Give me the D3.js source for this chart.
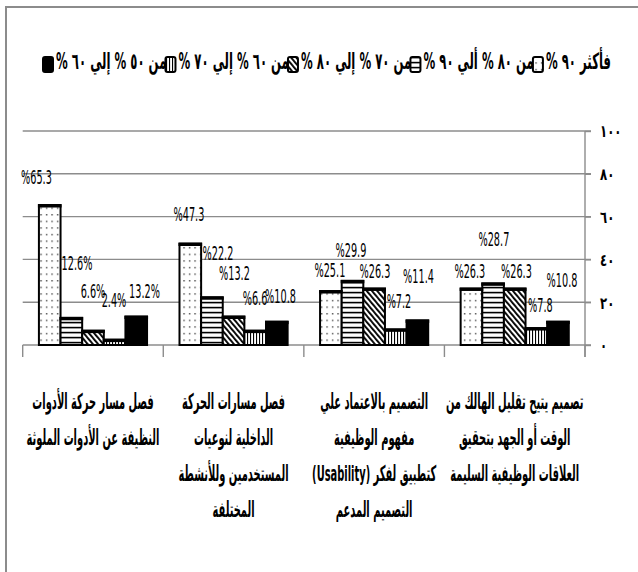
<!DOCTYPE html>
<html><head><meta charset="utf-8">
<script src="https://cdn.jsdelivr.net/npm/d3@7"></script>
<style>body{margin:0;background:#fff}svg{display:block}</style>
</head><body>
<svg id="c" width="638" height="572"></svg>
<script>
// ---------- data ----------
const categories = [
  ["فصل مسار حركة الأدوات", "النظيفة عن الأدوات الملوثة"],
  ["فصل مسارات الحركة", "الداخلية لنوعيات", "المستخدمين وللأنشطة", "المختلفة"],
  ["التصميم بالاعتماد علي", "مفهوم الوظيفية", "كتطبيق لفكر (Usability)", "التصميم المدعم"],
  ["تصميم يتيح تقليل الهالك من", "الوقت أو الجهد بتحقيق", "العلاقات الوظيفية السليمة"]
];
const seriesNames = ["فأكثر ٩٠ %", "من ٨٠ % ألي ٩٠ %", "من ٧٠ % إلي ٨٠ %", "من ٦٠ % إلي ٧٠ %", "من ٥٠ % إلي ٦٠ %"];
const s90plus  = [65.3, 47.3, 25.1, 26.3];
const s80to90  = [12.6, 22.2, 29.9, 28.7];
const s70to80  = [6.6, 13.2, 26.3, 26.3];
const s60to70  = [2.4, 6.6, 7.2, 7.8];
const s50to60  = [13.2, 10.8, 11.4, 10.8];
const seriesValues = [s90plus, s80to90, s70to80, s60to70, s50to60];
const yTickValues = [0, 20, 40, 60, 80, 100];
const yTickLabels = ["٠", "٢٠", "٤٠", "٦٠", "٨٠", "١٠٠"];

// ---------- styling / layout ----------
const patterns = ["dots", "hlines", "diag", "vlines", "solid"];
// manual data-label nudges (dx, dy of label centre relative to bar top centre)
const labelDx = [[-13.3,-1.4,-1,-1.6],[5.6,6,-1.6,0.8],[0,0.9,0.8,1.7],[-0.6,-0.2,3.2,4.1],[8.3,3.7,1.1,4]];
const labelDy = [[-27.8,-29.8,-20.8,-17.7],[-55,-44.5,-30.5,-44.6],[-40,-43.8,-17.7,-17.7],[-40,-33,-28,-23.3],[-25.3,-25.4,-44,-41.9]];

const svg = d3.select("#c");
const plot = {left: 22.7, right: 585, top: 131, bottom: 345};
const arabicFont = "'DejaVu Sans', sans-serif";
const numFont = "'DejaVu Sans Condensed', 'DejaVu Sans', sans-serif";
const GRID = "#8c8c8c";

// outer frame
svg.append("rect").attr("x", 6).attr("y", 7).attr("width", 700).attr("height", 700)
  .attr("fill", "none").attr("stroke", GRID).attr("stroke-width", 2);

// patterns
const defs = svg.append("defs");
{
  let p = defs.append("pattern").attr("id", "dots").attr("patternUnits", "userSpaceOnUse")
    .attr("width", 5.5).attr("height", 6.6);
  p.append("rect").attr("width", 5.5).attr("height", 6.6).attr("fill", "#fff");
  p.append("rect").attr("x", 2).attr("y", 3).attr("width", 1.2).attr("height", 1.2).attr("fill", "#000");

  p = defs.append("pattern").attr("id", "hlines").attr("patternUnits", "userSpaceOnUse")
    .attr("width", 6).attr("height", 5);
  p.append("rect").attr("width", 6).attr("height", 5).attr("fill", "#fff");
  p.append("rect").attr("y", 1.8).attr("width", 6).attr("height", 1.6).attr("fill", "#000");

  p = defs.append("pattern").attr("id", "diag").attr("patternUnits", "userSpaceOnUse")
    .attr("width", 4).attr("height", 10).attr("patternTransform", "rotate(-40)");
  p.append("rect").attr("width", 4).attr("height", 10).attr("fill", "#fff");
  p.append("rect").attr("x", 1).attr("width", 1.9).attr("height", 10).attr("fill", "#000");

  p = defs.append("pattern").attr("id", "vlines").attr("patternUnits", "userSpaceOnUse")
    .attr("width", 3).attr("height", 10);
  p.append("rect").attr("width", 3).attr("height", 10).attr("fill", "#fff");
  p.append("rect").attr("x", 1).attr("width", 1.1).attr("height", 10).attr("fill", "#000");
}
const fillOf = k => patterns[k] === "solid" ? "#000" : `url(#${patterns[k]})`;

// scales
const x0 = d3.scaleBand().domain(d3.range(categories.length)).range([plot.left, plot.right]).padding(0);
const x1 = d3.scaleBand().domain(d3.range(seriesValues.length)).range([0, x0.bandwidth()])
  .paddingInner(0).paddingOuter(0.75);
const y = d3.scaleLinear().domain([0, 100]).range([plot.bottom, plot.top]);

// gridlines
svg.append("g").selectAll("line").data(yTickValues).join("line")
  .attr("x1", plot.left).attr("x2", plot.right + 6)
  .attr("y1", d => y(d)).attr("y2", d => y(d))
  .attr("stroke", GRID).attr("stroke-width", 1.4);

// y axis on right
const yAxis = d3.axisRight(y).tickValues(yTickValues).tickSize(6).tickFormat((d, i) => yTickLabels[i]);
const gy = svg.append("g").attr("transform", `translate(${plot.right},0)`).call(yAxis);
gy.select(".domain").attr("stroke", GRID).attr("stroke-width", 1.4).attr("d", `M0,${plot.top}V${plot.bottom + 12}`);
gy.selectAll(".tick line").attr("stroke", GRID).attr("stroke-width", 1.4);
gy.selectAll(".tick text").attr("x", 0).attr("dy", null)
  .attr("font-family", arabicFont).attr("font-weight", "bold").attr("font-size", 13)
  .attr("fill", "#000").attr("text-anchor", "start").attr("dominant-baseline", "central")
  .attr("transform", "translate(15,0) scale(0.9,1.3)");

// category tick marks
svg.append("g").selectAll("line").data(d3.range(categories.length + 1)).join("line")
  .attr("x1", i => plot.left + i * x0.step()).attr("x2", i => plot.left + i * x0.step())
  .attr("y1", plot.bottom).attr("y2", plot.bottom + 12)
  .attr("stroke", GRID).attr("stroke-width", 1.4);

// bars
const rows = [];
seriesValues.forEach((vals, s) => vals.forEach((v, g) => rows.push({s, g, v})));
const bars = svg.append("g");
bars.selectAll("rect").data(rows).join("rect")
  .attr("x", d => x0(d.g) + x1(d.s))
  .attr("y", d => y(d.v))
  .attr("width", x1.bandwidth())
  .attr("height", d => y(0) - y(d.v))
  .attr("fill", d => fillOf(d.s))
  .attr("stroke", "#000").attr("stroke-width", 2);
bars.selectAll("line").data(rows).join("line")
  .attr("x1", d => x0(d.g) + x1(d.s) - 1).attr("x2", d => x0(d.g) + x1(d.s) + x1.bandwidth() + 1)
  .attr("y1", d => y(d.v) + 0.5).attr("y2", d => y(d.v) + 0.5)
  .attr("stroke", "#000").attr("stroke-width", 3.5);

// data labels
svg.append("g").selectAll("g").data(rows).join("g")
  .attr("transform", d => `translate(${x0(d.g) + x1(d.s) + x1.bandwidth() / 2 + labelDx[d.s][d.g]},${y(d.v) + labelDy[d.s][d.g]}) scale(0.8,1.5)`)
  .append("text")
  .attr("text-anchor", "middle").attr("dominant-baseline", "central")
  .attr("font-family", numFont).attr("font-size", 13.5).attr("fill", "#000")
  .text(d => (d.g === 0 && d.s > 0) ? `${d.v.toFixed(1)}%` : `%${d.v.toFixed(1)}`);

// category labels
const catG = svg.append("g");
categories.forEach((lines, g) => {
  lines.forEach((line, i) => {
    catG.append("g")
      .attr("transform", `translate(${x0(g) + x0.bandwidth() / 2},${401 + i * 36}) scale(0.66,1.45)`)
      .append("text")
      .attr("direction", "rtl").attr("text-anchor", "middle").attr("dominant-baseline", "central")
      .attr("font-family", arabicFont).attr("font-weight", "bold").attr("font-size", 15)
      .attr("fill", "#000").text(line);
  });
});

// legend (screen order left->right: last series first)
const legG = svg.append("g");
const legSX = 0.78, legSY = 1.5;
const order = d3.range(seriesNames.length).reverse();
const legItems = order.map(s => {
  const sym = legG.append("rect").attr("width", 10).attr("height", 15).attr("rx", 2)
    .attr("fill", fillOf(s)).attr("stroke", "#000").attr("stroke-width", 2);
  const tg = legG.append("g");
  const t = tg.append("text").attr("direction", "rtl").attr("text-anchor", "middle")
    .attr("dominant-baseline", "central")
    .attr("font-family", arabicFont).attr("font-weight", "bold").attr("font-size", 15)
    .attr("fill", "#000").text(seriesNames[s]);
  const bb = t.node().getBBox();
  return {sym, tg, bx: bb.x, w: bb.width};
});
const legStart = 43, legEnd = 611, symW = 10, symGap = 3;
const natural = d3.sum(legItems, d => symW + symGap + d.w * legSX);
const gap = (legEnd - legStart - natural) / (legItems.length - 1);
let cx = legStart;
legItems.forEach(it => {
  it.sym.attr("x", cx).attr("y", 57);
  cx += symW + symGap;
  it.tg.attr("transform", `translate(${cx - it.bx * legSX},61) scale(${legSX},${legSY})`);
  cx += it.w * legSX + gap;
});
</script>
</body></html>
